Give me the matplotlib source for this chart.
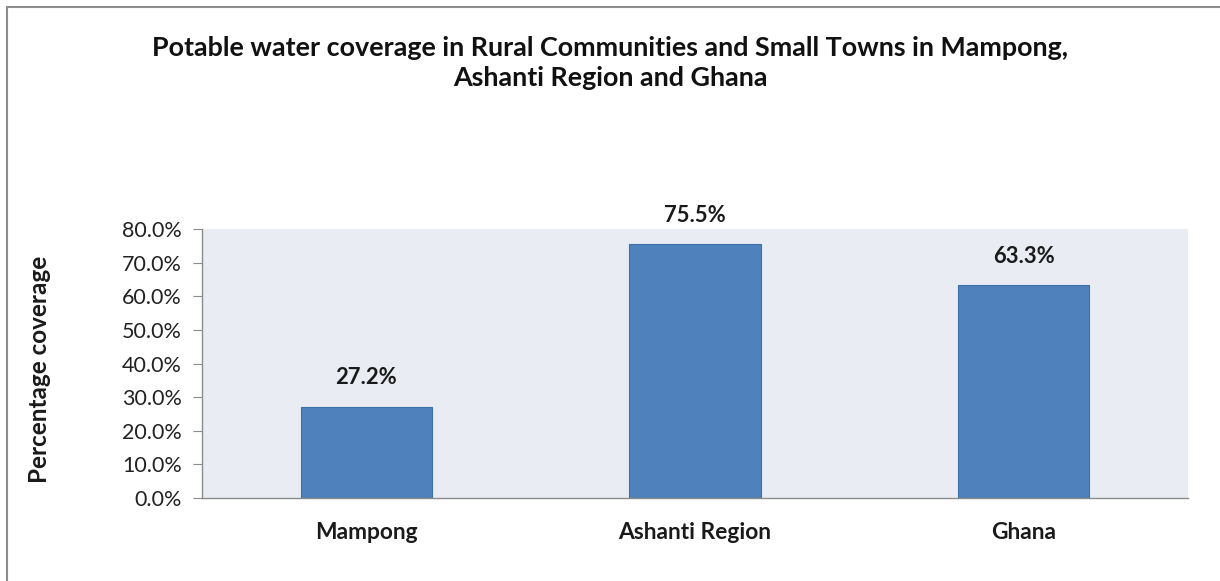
import matplotlib
matplotlib.use("Agg")
import matplotlib.pyplot as plt
from matplotlib.patches import Rectangle
from matplotlib.ticker import FuncFormatter

categories = ["Mampong", "Ashanti Region", "Ghana"]
values = [27.2, 75.5, 63.3]
yticks = [0, 10, 20, 30, 40, 50, 60, 70, 80]

plt.rcParams['font.family'] = ['Lato', 'DejaVu Sans']

fig = plt.figure(figsize=(12.2, 5.81), dpi=100)
fig.patch.set_facecolor('white')
# outer frame
fig.patches.append(Rectangle((7/1220, -0.05), 1.1, (581-7)/581 + 0.05, transform=fig.transFigure,
                             fill=False, edgecolor='#8c8c8c', linewidth=1.5))

ax = fig.add_axes([202/1220, 1 - 498/581, (1188-202)/1220, (498-229)/581])
ax.set_facecolor('#E9EDF3')
x = range(len(categories))
bars = ax.bar(x, values, width=0.40, color='#4F81BD', edgecolor='#3F6FA8', linewidth=0.8, zorder=2)
ax.set_xlim(-0.5, len(categories) - 0.5)
ax.set_ylim(0, 80)
ax.set_yticks(yticks)
ax.yaxis.set_major_formatter(FuncFormatter(lambda v, p: f"{v:.1f}%"))
ax.set_xticks(list(x))
ax.set_xticklabels(categories, fontsize=16.4, fontweight='bold', color='#1a1a1a')
ax.tick_params(axis='x', length=0, pad=17)
ax.tick_params(axis='y', direction='out', length=6.5, color='#8c8c8c', labelsize=15.5, pad=8, labelcolor='#222222')
for s in ['top', 'right']:
    ax.spines[s].set_visible(False)
for s in ['left', 'bottom']:
    ax.spines[s].set_color('#8c8c8c')
    ax.spines[s].set_linewidth(1.0)

for xi, v in zip(x, values):
    ax.annotate(f"{v}%", (xi, v), xytext=(0, 13), textcoords='offset points',
                ha='center', va='bottom', fontsize=15.8, fontweight='bold', color='#1a1a1a')

fig.text(40/1220, 1 - 369/581, "Percentage coverage", rotation=90, ha='center', va='center',
         fontsize=17.5, fontweight='bold', color='#1a1a1a')

fig.text(0.5, 1 - 63/581, "Potable water coverage in Rural Communities and Small Towns in Mampong,\nAshanti Region and Ghana",
         ha='center', va='center', fontsize=19.4, fontweight='bold', linespacing=1.25, color='#111111')

fig.savefig("out.png", dpi=100, facecolor='white')
